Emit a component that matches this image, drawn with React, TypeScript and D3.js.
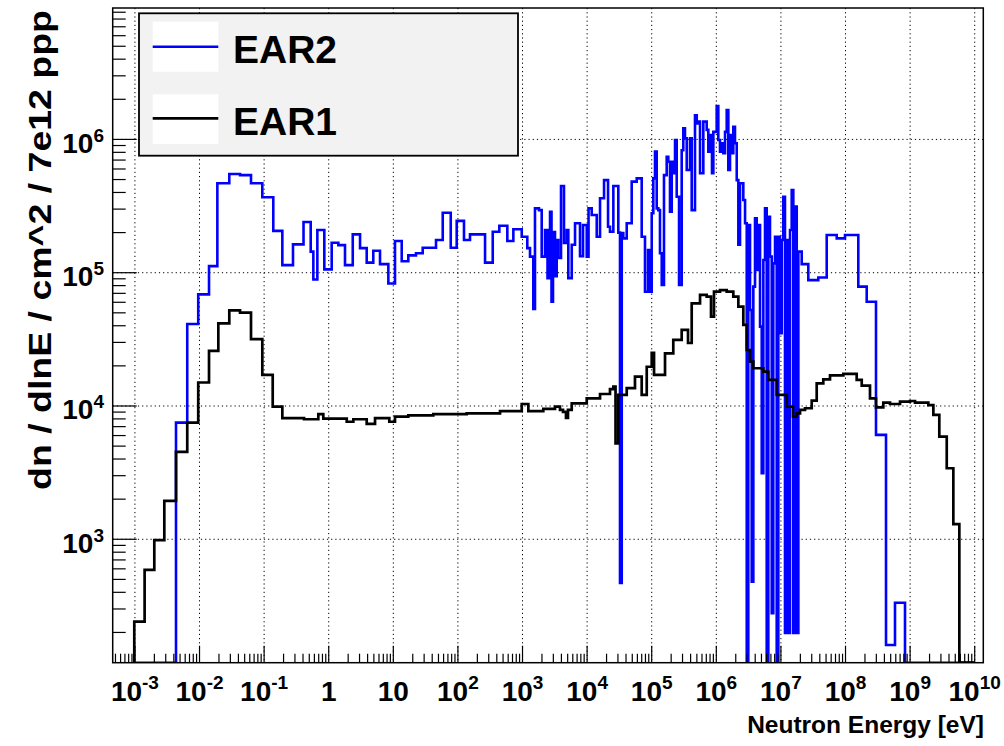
import React from 'react';
import * as d3 from 'd3';

// EAR2 histogram: bin edges in log10(E/eV) and flux per bin
const ear2LogE = [
  -3.01, -2.364, -2.19, -2.02, -1.853, -1.724, -1.539, -1.373, -1.203, -1.028,
  -0.858, -0.718, -0.553, -0.39, -0.279, -0.238, -0.176, -0.068, 0.046, 0.149,
  0.252, 0.372, 0.485, 0.588, 0.69, 0.794, 0.923, 1.026, 1.13, 1.232,
  1.351, 1.455, 1.661, 1.765, 1.889, 1.981, 2.094, 2.187, 2.42, 2.539,
  2.641, 2.765, 2.858, 2.988, 3.074, 3.116, 3.167, 3.193, 3.255, 3.297,
  3.348, 3.387, 3.426, 3.449, 3.472, 3.503, 3.529, 3.554, 3.596, 3.642,
  3.684, 3.709, 3.762, 3.813, 3.89, 3.937, 3.994, 4.022, 4.071, 4.149,
  4.2, 4.262, 4.324, 4.354, 4.406, 4.483, 4.509, 4.536, 4.56, 4.613,
  4.69, 4.768, 4.845, 4.896, 4.943, 4.974, 5.0, 5.025, 5.051, 5.077,
  5.102, 5.128, 5.155, 5.19, 5.232, 5.257, 5.283, 5.31, 5.334, 5.361,
  5.387, 5.423, 5.464, 5.489, 5.515, 5.542, 5.593, 5.619, 5.67, 5.697,
  5.721, 5.748, 5.799, 5.851, 5.876, 5.902, 5.933, 5.954, 6.006, 6.031,
  6.057, 6.084, 6.108, 6.135, 6.161, 6.186, 6.212, 6.238, 6.263, 6.289,
  6.316, 6.341, 6.367, 6.418, 6.445, 6.471, 6.495, 6.522, 6.548, 6.573,
  6.599, 6.625, 6.65, 6.677, 6.703, 6.728, 6.754, 6.78, 6.805, 6.831,
  6.858, 6.882, 6.909, 6.935, 6.96, 6.986, 7.012, 7.037, 7.063, 7.09,
  7.115, 7.141, 7.167, 7.192, 7.218, 7.245, 7.27, 7.322, 7.424, 7.579,
  7.709, 7.864, 7.992, 8.198, 8.328, 8.472, 8.627, 8.766, 8.921, 10.0,
];
const ear2Flux = [
  0, 7.5e3, 4.12e4, 6.88e4, 1.12e5, 4.69e5, 5.5e5, 5.4e5, 4.69e5, 3.68e5,
  2.06e5, 1.14e5, 1.63e5, 2.4e5, 1.44e5, 8.9e4, 2.09e5, 1.06e5, 1.68e5, 1.61e5,
  1.14e5, 1.94e5, 1.53e5, 1.19e5, 1.46e5, 1.16e5, 8.3e4, 1.73e5, 1.22e5, 1.35e5,
  1.4e5, 1.54e5, 1.76e5, 2.82e5, 1.54e5, 2.45e5, 1.76e5, 1.94e5, 1.19e5, 2.03e5,
  2.25e5, 1.73e5, 2.12e5, 1.86e5, 1.53e5, 1.32e5, 5.34e4, 3.04e5, 2.95e5, 1.32e5,
  2.09e5, 9.1e4, 2.87e5, 6.06e4, 2.02e5, 9.4e4, 1.76e5, 1.29e5, 4.47e5, 1.67e5,
  2.09e5, 9.1e4, 1.62e5, 2.35e5, 1.33e5, 2.28e5, 1.32e5, 3.04e5, 2.71e5, 1.86e5,
  3.62e5, 4.95e5, 2.21e5, 2.03e5, 4.47e5, 2.0e5, 470, 1.98e5, 1.81e5, 2.35e5,
  4.82e5, 5.1e5, 1.86e5, 7.2e4, 1.48e5, 7.2e4, 2.79e5, 5.1e5, 8.1e5, 3.04e5,
  2.95e5, 1.4e5, 8.1e4, 5.4e5, 7.4e5, 6.8e5, 2.87e5, 6.8e5, 5.57e5, 9.9e5,
  3.71e5, 8.1e4, 8.3e5, 1.21e6, 1.02e6, 5.9e5, 1.02e6, 2.95e5, 1.52e6, 1.32e6,
  1.36e6, 5.57e5, 1.36e6, 1.18e6, 8.1e5, 1.08e6, 5.57e5, 1.14e6, 1.78e6, 9.9e5,
  8.1e5, 9.35e5, 7.87e5, 1.14e6, 1.66e6, 5.9e5, 1.08e6, 7.87e5, 1.245e6, 9.35e5,
  4.95e5, 1.62e5, 4.69e5, 3.51e5, 2.35e5, 0, 2.28e5, 5.25e4, 481, 7.86e4,
  2.56e5, 1.05e5, 2.28e5, 3.94e4, 3.13e3, 1.245e5, 3.04e5, 0, 2.63e5, 1.32e5,
  279, 1.175e5, 1.86e5, 0, 1.86e5, 3.51e4, 1.76e5, 3.71e5, 198, 1.76e5,
  198, 2.09e5, 4.17e5, 198, 3.13e5, 198, 1.44e5, 1.16e5, 8.8e4, 9.2e4,
  1.92e5, 1.81e5, 1.92e5, 7.86e4, 6.06e4, 6.07e3, 161, 334, 0,
];

// EAR1 histogram
const ear1LogE = [
  -3.01, -2.85, -2.7, -2.545, -2.364, -2.19, -2.02, -1.853, -1.709, -1.539,
  -1.373, -1.203, -1.028, -0.867, -0.718, -0.382, -0.161, -0.084, 0.279, 0.381,
  0.588, 0.717, 0.938, 1.026, 1.232, 1.619, 2.136, 2.652, 2.988, 3.09,
  3.322, 3.503, 3.58, 3.627, 3.673, 3.704, 3.762, 3.994, 4.2, 4.354,
  4.406, 4.44, 4.483, 4.613, 4.741, 4.845, 4.923, 5.0, 5.036, 5.206,
  5.334, 5.464, 5.562, 5.619, 5.748, 5.851, 5.918, 5.964, 6.057, 6.161,
  6.263, 6.341, 6.418, 6.471, 6.522, 6.573, 6.728, 6.805, 6.935, 7.09,
  7.187, 7.245, 7.296, 7.373, 7.477, 7.554, 7.656, 7.76, 7.966, 8.173,
  8.251, 8.379, 8.472, 8.585, 8.689, 8.844, 8.999, 9.076, 9.282, 9.36,
  9.452, 9.567, 9.669, 9.762, 10.0,
];
const ear1Flux = [
  241, 589, 984, 1.94e3, 4.52e3, 7.5e3, 1.5e4, 2.59e4, 4.17e4, 5.22e4,
  5.01e4, 3.18e4, 1.71e4, 9.9e3, 8.1e3, 7.95e3, 8.7e3, 8.04e3, 7.62e3, 7.95e3,
  7.33e3, 8.1e3, 7.62e3, 8.32e3, 8.51e3, 8.7e3, 8.8e3, 9.16e3, 1.035e4, 9.16e3,
  9.5e3, 9.9e3, 9.34e3, 9.02e3, 8.13e3, 9.34e3, 1.047e4, 1.14e4, 1.23e4, 1.34e4,
  1.4e4, 5.25e3, 1.21e4, 1.36e4, 1.66e4, 1.21e4, 1.97e4, 2.5e4, 1.71e4, 2.48e4,
  3.13e4, 3.72e4, 2.97e4, 5.89e4, 6.81e4, 6.61e4, 4.68e4, 7.2e4, 7.41e4, 7.2e4,
  6.61e4, 5.56e4, 4.06e4, 2.63e4, 2.15e4, 1.92e4, 1.81e4, 1.57e4, 1.21e4, 9.9e3,
  8.32e3, 8.8e3, 9.34e3, 9.62e3, 1.097e4, 1.48e4, 1.585e4, 1.7e4, 1.74e4, 1.57e4,
  1.42e4, 1.14e4, 9.77e3, 1.06e4, 1.035e4, 1.077e4, 1.09e4, 1.06e4, 1.016e4, 8.57e3,
  5.89e3, 3.41e3, 1.3e3, 0,
];

// axis decades and labels
const xDecades = [-3, -2, -1, 0, 1, 2, 3, 4, 5, 6, 7, 8, 9, 10];
const yDecades = [3, 4, 5, 6];

const W = 1004;
const H = 746;
const frame = { left: 112.7, right: 983.3, top: 8, bottom: 662.7 };
const font = '"Liberation Sans", Arial, Helvetica, sans-serif';

const x = d3
  .scaleLog()
  .domain([Math.pow(10, -3.344), Math.pow(10, 10.133)])
  .range([frame.left, frame.right]);
const y = d3
  .scaleLog()
  .domain([Math.pow(10, 2.074), Math.pow(10, 6.986)])
  .range([frame.bottom, frame.top]);
const yMin = y.domain()[0];

const stepPath = (logE: number[], flux: number[]) => {
  const pts: [number, number][] = flux.map((v, i) => [logE[i], v]);
  pts.push([logE[logE.length - 1], flux[flux.length - 1]]);
  const line = d3
    .line<[number, number]>()
    .x((d) => x(Math.pow(10, d[0])))
    .y((d) => (d[1] <= yMin ? frame.bottom : y(d[1])))
    .curve(d3.curveStepAfter);
  const start = `M${x(Math.pow(10, logE[0]))},${frame.bottom}`;
  return start + 'L' + (line(pts) as string).slice(1);
};

const minorX: number[] = [];
for (let d = -4; d <= 10; d++) {
  for (let k = 2; k <= 9; k++) {
    const v = k * Math.pow(10, d);
    if (v > x.domain()[0] && v < x.domain()[1]) minorX.push(v);
  }
}
const minorY: number[] = [];
for (let d = 2; d <= 6; d++) {
  for (let k = 2; k <= 9; k++) {
    const v = k * Math.pow(10, d);
    if (v > y.domain()[0] && v < y.domain()[1]) minorY.push(v);
  }
}

const xLabel = (d: number) => {
  if (d === 0) return { base: '1', sup: '' };
  if (d === 1) return { base: '10', sup: '' };
  return { base: '10', sup: String(d) };
};

export default function App() {
  return (
    <svg
      width={W}
      height={H}
      style={{ position: 'absolute', left: 0, top: 0, background: '#fff' }}
      fontFamily={font}
      fontWeight="bold"
    >
      <defs>
        <clipPath id="plotClip">
          <rect
            x={frame.left}
            y={frame.top}
            width={frame.right - frame.left}
            height={frame.bottom - frame.top}
          />
        </clipPath>
      </defs>
      <rect width={W} height={H} fill="#fff" />

      {/* grid */}
      <g stroke="#000" strokeWidth={1} strokeDasharray="1.2 3">
        {xDecades.map((d) => (
          <line
            key={'gx' + d}
            x1={x(Math.pow(10, d))}
            x2={x(Math.pow(10, d))}
            y1={frame.top}
            y2={frame.bottom}
          />
        ))}
        {yDecades.map((d) => (
          <line
            key={'gy' + d}
            y1={y(Math.pow(10, d))}
            y2={y(Math.pow(10, d))}
            x1={frame.left}
            x2={frame.right}
          />
        ))}
      </g>

      {/* histograms */}
      <g clipPath="url(#plotClip)" fill="none" strokeLinejoin="miter">
        <path d={stepPath(ear2LogE, ear2Flux)} stroke="#0000ff" strokeWidth={2.6} />
        <path d={stepPath(ear1LogE, ear1Flux)} stroke="#000" strokeWidth={2.7} />
      </g>

      {/* ticks */}
      <g stroke="#000" strokeWidth={1.2}>
        {xDecades.map((d) => (
          <line
            key={'tx' + d}
            x1={x(Math.pow(10, d))}
            x2={x(Math.pow(10, d))}
            y1={frame.bottom}
            y2={frame.bottom - 17}
          />
        ))}
        {minorX.map((v) => (
          <line key={'mx' + v} x1={x(v)} x2={x(v)} y1={frame.bottom} y2={frame.bottom - 9} />
        ))}
        {yDecades.map((d) => (
          <line
            key={'ty' + d}
            y1={y(Math.pow(10, d))}
            y2={y(Math.pow(10, d))}
            x1={frame.left}
            x2={frame.left + 24}
          />
        ))}
        {minorY.map((v) => (
          <line key={'my' + v} y1={y(v)} y2={y(v)} x1={frame.left} x2={frame.left + 13} />
        ))}
      </g>

      {/* frame */}
      <rect
        x={frame.left}
        y={frame.top}
        width={frame.right - frame.left}
        height={frame.bottom - frame.top}
        fill="none"
        stroke="#000"
        strokeWidth={1.5}
      />

      {/* x tick labels */}
      {xDecades.map((d) => {
        const l = xLabel(d);
        return (
          <text key={'lx' + d} x={x(Math.pow(10, d))} y={701} textAnchor="middle" fontSize={28}>
            <tspan>{l.base}</tspan>
            {l.sup && (
              <tspan dy={-12} fontSize={19}>
                {l.sup}
              </tspan>
            )}
          </text>
        );
      })}

      {/* y tick labels */}
      {yDecades.map((d) => (
        <text key={'ly' + d} x={104} y={y(Math.pow(10, d)) + 13.5} textAnchor="end" fontSize={28}>
          <tspan>10</tspan>
          <tspan dy={-11} fontSize={19}>
            {d}
          </tspan>
        </text>
      ))}

      {/* axis titles */}
      <text x={984} y={733} textAnchor="end" fontSize={24.5}>
        Neutron Energy [eV]
      </text>
      <text
        transform="translate(51,490) rotate(-90)"
        fontSize={31}
        textLength={480}
        lengthAdjust="spacingAndGlyphs"
      >
        dn / dlnE / cm^2 / 7e12 ppp
      </text>

      {/* legend */}
      <rect x={139} y={13.3} width={379} height={142.4} fill="#f2f2f2" stroke="#000" strokeWidth={1.8} />
      <rect x={152.7} y={21.7} width={65.6} height={50} fill="#fff" />
      <rect x={152.7} y={94.3} width={65.6} height={49.7} fill="#fff" />
      <line x1={152.7} x2={218.3} y1={46.7} y2={46.7} stroke="#0000ff" strokeWidth={2.6} />
      <line x1={152.7} x2={218.3} y1={118.3} y2={118.3} stroke="#000" strokeWidth={2.7} />
      <text x={233} y={63} fontSize={39}>
        EAR2
      </text>
      <text x={233} y={135} fontSize={39}>
        EAR1
      </text>
    </svg>
  );
}
